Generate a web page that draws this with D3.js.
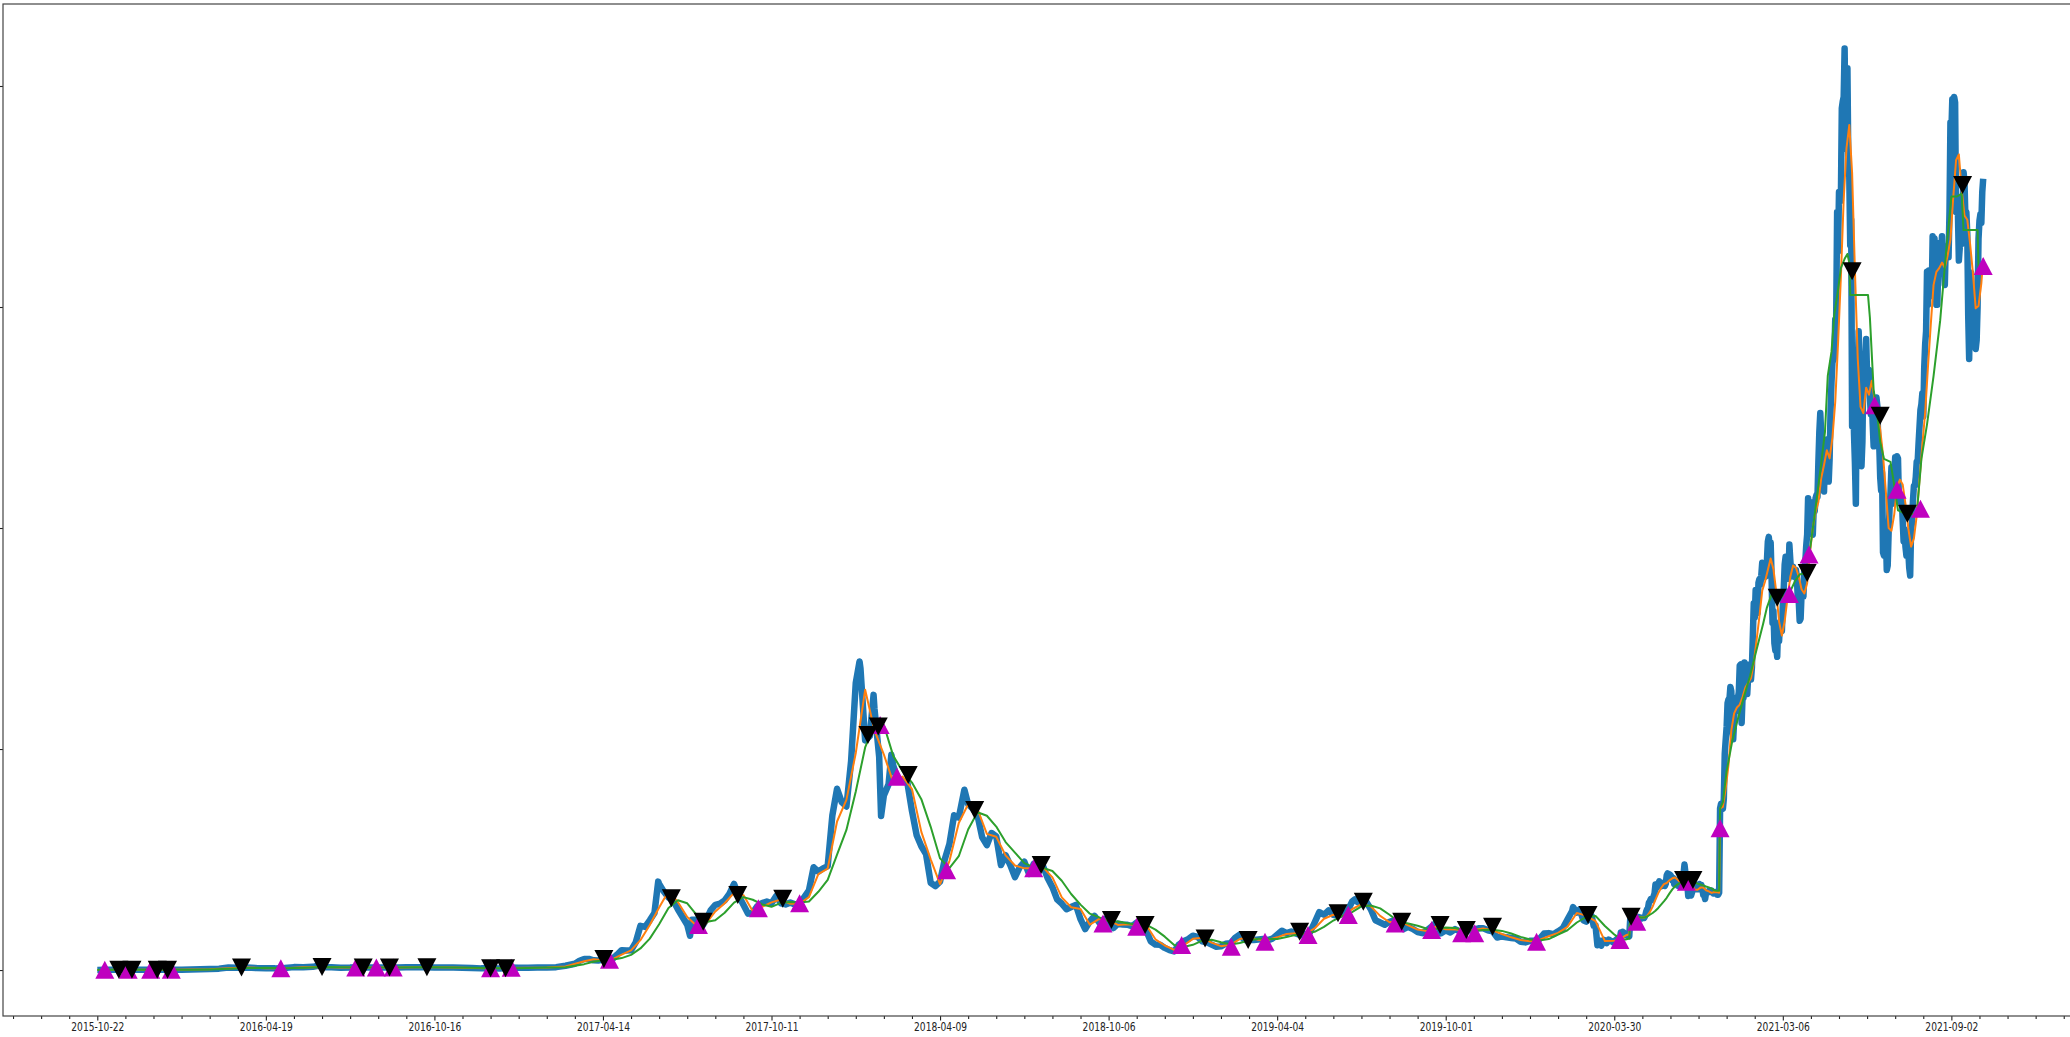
<!DOCTYPE html>
<html>
<head>
<meta charset="utf-8">
<script src="https://cdn.jsdelivr.net/npm/d3@7"></script>
<style>
  html, body { margin: 0; padding: 0; background: #fff; overflow: hidden; }
  svg { display: block; }
</style>
</head>
<body>
<svg id="chart" width="2070" height="1037"></svg>
<script>
// ---- x axis: row index of the daily series, labelled every 180 rows ----
const tickRows   = [0, 180, 360, 540, 720, 900, 1080, 1260, 1440, 1620, 1800, 1980];
const tickLabels = ["2015-10-22", "2016-04-19", "2016-10-16", "2017-04-14", "2017-10-11", "2018-04-09",
                    "2018-10-06", "2019-04-04", "2019-10-01", "2020-03-30", "2021-03-06", "2021-09-02"];
const yTicks = [0, 1000, 2000, 3000, 4000];

// ---- closing price, sampled rows [row, close] ----
const close2015_16 = [
  [0,0.57],[10,1.0],[20,0.99],[30,0.95],[40,0.88],[50,0.87],[60,0.95],[70,0.93],[80,0.99],[90,1.5],
  [100,2.4],[110,3.0],[120,4.5],[130,6.3],[140,11.0],[150,10.5],[160,11.4],[170,9.0],[180,8.0],[190,7.5],
  [200,9.4],[210,13.2],[220,12.5],[230,14.3],[237,20.6],[240,13.0],[250,12.5],[260,10.8],[270,11.1],[280,12.9],
  [290,10.9],[300,11.0],[310,11.3],[320,11.9],[330,12.8],[340,12.9],[350,12.9],[360,12.0],[370,11.4],[380,11.0],
  [390,10.0],[400,9.3],[410,7.5],[420,7.8],[430,7.2],[440,11.0],[450,9.8],[460,10.6],[470,11.3],[480,11.5],
  [490,13.1],[500,19.6],[510,28.5]
];
const close2017_18 = [
  [515,42],[520,50],[525,50],[530,44],[535,43],[540,47],[545,48],[550,50],[555,69],[560,90],
  [565,88],[570,89],[575,125],[580,200],[585,195],[590,225],[595,258],[599,400],[600,390],[605,355],
  [610,328],[615,315],[620,275],[625,240],[630,205],[633,155],[635,227],[640,228],[645,191],[650,225],
  [655,270],[660,295],[665,300],[670,315],[675,345],[680,390],[685,335],[690,295],[695,255],[700,260],
  [705,290],[710,303],[715,310],[720,302],[725,335],[730,302],[735,297],[740,305],[745,297],[750,300],
  [755,330],[760,360],[765,465],[770,445],[775,460],[780,470],[785,700],[790,820],[795,760],[800,740],
  [805,945],[810,1300],[814,1396],[815,1366],[820,1039],[825,1058],[829,1245],[830,1181],[835,964],[837,697],
  [840,790],[845,840],[848,974],[850,925],[855,860],[860,855],[865,850],[870,720],[875,610],[880,560],
  [885,525],[890,395],[895,380],[900,400],[905,500],[910,570],[915,700],[920,690],[926,816],[930,750],
  [935,730],[940,700],[945,600],[950,565],[955,620],[960,605],[965,475],[970,520],[975,475],[980,420],
  [985,465],[990,490],[995,435],[1000,480],[1005,455],[1010,470],[1015,415],[1020,375],[1025,320],[1030,300],
  [1035,275],[1040,285],[1045,295],[1050,230],[1055,185],[1060,220],[1065,245],[1070,215],[1075,230],[1080,225],
  [1085,190],[1090,210],[1095,206],[1100,205],[1105,198],[1110,215],[1115,212],[1120,180],[1125,130],[1130,115],
  [1135,114],[1140,100],[1145,90],[1150,84],[1155,115],[1160,130],[1165,140],[1170,155],[1175,150],[1180,130],
  [1185,125],[1190,115],[1195,105]
];
const close2019_20 = [
  [1200,107],[1205,119],[1210,121],[1215,145],[1220,160],[1225,136],[1230,137],[1235,136],[1240,138],[1245,140],
  [1250,135],[1255,142],[1260,160],[1265,178],[1270,167],[1275,174],[1280,165],[1285,157],[1290,162],[1295,170],
  [1300,215],[1305,262],[1310,250],[1315,270],[1320,250],[1325,245],[1330,255],[1335,265],[1340,310],[1343,320],
  [1345,310],[1350,300],[1355,310],[1360,275],[1365,225],[1370,215],[1375,205],[1380,218],[1385,225],[1390,210],
  [1395,185],[1400,195],[1405,186],[1410,172],[1415,167],[1420,180],[1425,197],[1430,215],[1435,166],[1440,180],
  [1445,170],[1450,185],[1455,175],[1460,175],[1465,180],[1470,183],[1475,189],[1480,189],[1485,180],[1490,175],
  [1495,147],[1500,152],[1505,148],[1510,145],[1515,142],[1520,128],[1525,125],[1530,132],[1535,134],[1540,140],
  [1545,165],[1550,167],[1555,162],[1560,175],[1565,189],[1570,228],[1575,267],[1576,285],[1580,260],[1583,274],
  [1587,225],[1590,219],[1596,244],[1598,200],[1600,201],[1602,112],[1603,133],[1604,124],[1605,133],[1606,110],
  [1609,136],[1612,122],[1614,138],[1619,125]
];

// ---- daily closes for the later, gapped stretches (first row of each block given) ----
const spring2020Start = 1620;
const closeSpring2020 = [132,133,136,141,141,144,143,170,164,173,170,158,158,161,156,157,153];
const summer2020Start = 1637;
const closeSummer2020 = [
  227,241,239,246,242,242,239,241,239,240,238,233,233,236,239,236,245,263,275,279,
  305,311,321,317,318,334,346,387,370,387,390,401,395,379,392,391,395,380,390,428,
  437,433,433,429,423,406,416,389,395,391,408,382,386,381,395,400,428,434,477,440,
  385,388,335,353,353,337,351,368,374,387,366,377,365,365,389,384,385,370,341,344,
  321,349,353,354,358,354,360,360,353,346,347,352,353,341,341,350
];
const start2021 = 1733;
const close2021 = [
  731,752,737,730,775,979,1041,1100,1208,1225, 1224,1281,1262,1090,1044,1130,1218,1171,1233,1230,
  1257,1377,1383,1118,1235,1231,1392,1325,1363,1249, 1330,1382,1378,1315,1370,1514,1660,1594,1719,1677,
  1615,1752,1769,1744,1784,1843,1814,1800,1779,1781, 1849,1938,1960,1919,1935,1781,1571,1625,1479,1446,
  1460,1417,1565,1488,1575,1541,1533,1654,1725,1835, 1870,1795,1825,1770,1925,1855,1790,1805,1825,1780,
  1810,1810,1780,1680,1670,1580,1590,1700,1715,1690, 1820,1845,1920,1970,2135,2025,2090,2110,2115,1970,
  2090,2075,2135,2150,2140,2300,2435,2520,2430,2365, 2210,2165,2330,2360,2400,2365,2210,2315,2535,2660,
  2750,2760,2775,2945,2950,3430,3250,3520,3490,3480, 3900,3930,3950,4170,3785,3715,4080,3640,3590,3280,
  3395,2460,2770,2430,2295,2110,2640,2710,2890,2750, 2420,2280,2390,2710,2630,2710,2855,2690,2630,2715,
  2590,2515,2610,2470,2370,2370,2510,2590,2550,2370, 2375,2230,2170,2250,1890,1875,1970,1990,1810,1830,
  1980,2085,2160,2275,2110,2150,2225,2320,2200,2325, 2315,2120,2150,2140,2140,2035,1940,1995,1915,1875,
  1900,1895,1820,1785,1995,2025,2125,2190,2190,2230, 2300,2300,2385,2460,2535,2560,2610,2505,2725,2830,
  2890,3160,3010,3165,3140,3165,3050,3320,3270,3310, 3150,3010,3010,3185,3290,3225,3240,3320,3170,3225,
  3100,3275,3245,3225,3225,3430,3835,3790,3940,3890, 3950,3925,3430,3500,3425,3210,3270,3410,3285,3430,
  3610,3570,3400,3430,3330,2960,2765,3080,3155,2930, 2920,3060,2930,2810,2850,3000,3310,3390,3420,3380,
  3520,3580
];

// ---- moving averages up to 2020: [row, short (10-day), long (30-day)] ----
const ma2015_16 = [
  [0,0.57,0.57],[20,0.99,0.85],[40,0.9,0.95],[60,0.91,0.9],[80,0.96,0.94],[100,1.95,1.4],[120,3.75,2.8],
  [140,8.6,5.8],[160,11.0,9.2],[180,8.5,10.0],[200,8.5,8.6],[220,12.8,10.3],[240,13.6,13.2],[260,11.6,12.5],
  [280,12.0,11.7],[300,11.0,11.5],[320,11.6,11.4],[340,12.8,12.3],[360,12.4,12.6],[380,11.2,11.8],[400,9.6,10.4],
  [420,7.6,8.7],[440,9.1,8.5],[460,10.2,9.6],[480,11.4,10.9],[500,16.3,13.0]
];
const ma2017_18 = [
  [520,39.6,26.6],[530,48.5,37.4],[540,44,44.1],[550,48,47],[560,69.5,54],[570,88.8,68.8],[580,135,97.7],
  [590,204,142],[600,283,207],[610,357,281],[620,308,316],[630,240,302],[640,200,249],[650,210,217],
  [660,265,225],[670,302,259],[680,349,305],[690,339,330],[700,266,318],[710,286,297],[720,306,286],
  [730,319,304],[740,300,308],[750,300,306],[760,330,310],[770,434,354],[780,459,408],[790,672,522],
  [800,770,634],[810,982,808],[820,1268,1007],[830,1084,1111],[840,975,1109],[850,849,969],[860,875,900],
  [870,819,848],[880,625,773],[890,501,648],[900,389,505],[910,493,461],[920,665,515],[930,750,636],
  [940,728,714],[950,616,698],[960,603,649],[970,519,579],[980,473,531],[990,460,484],[1000,460,464],
  [1010,465,462],[1020,419,448],[1030,329,404],[1040,284,344],[1050,276,296],[1060,205,255],[1070,231,238],
  [1080,225,220],[1090,204,220],[1100,207,212],[1110,204,205],[1120,205,205],[1130,139,183],[1140,111,151],
  [1150,91,113.5],[1160,111,104],[1170,141,114],[1180,146,133],[1190,124,137],[1200,108,126]
];
const ma2019_20 = [
  [1210,114,116],[1220,140,122],[1230,148,134],[1240,137,142],[1250,136,141],[1260,148,140],[1270,163,149],
  [1280,166,159],[1290,163,164],[1300,188,173],[1310,232,195],[1320,250,224],[1330,243,245],[1340,275,262],
  [1350,298,288],[1360,288,292],[1370,245,279],[1380,216,250],[1390,222,218],[1400,202,211],[1410,183,200],
  [1420,176,187],[1430,198,186],[1440,184,192],[1450,183,190],[1460,180,180],[1470,181,178],[1480,188,181],
  [1490,180,182],[1500,163,177],[1510,148,165],[1520,136,150],[1530,130,138],[1540,136,134],[1550,153,140],
  [1560,168,160],[1570,195,180],[1580,258,215],[1590,246,240],[1600,221,245],[1610,131,199],[1620,132,161],
  [1623,134,152],[1626,136,144],[1629,148,139],[1632,156,138],[1636,162,143]
];
const maSummer2020 = [
  [1637,227,227],[1640,238,238],[1643,239,239],[1646,240,240],[1649,239,238],[1652,237,238],[1655,244,242],
  [1658,262,250],[1661,287,258],[1664,319,268],[1667,348,281],[1670,371,296],[1673,389,311],[1676,394,327],
  [1679,406,347],[1682,415,365],[1685,419,379],[1688,407,389],[1691,395,396],[1694,400,402],[1697,411,407],
  [1700,404,404],[1703,385,399],[1706,363,397],[1709,363,391],[1712,373,387],[1715,373,383],[1718,361,378],
  [1721,356,374],[1724,349,368],[1727,353,360],[1730,352,359],[1732,350,359]
];

// ---- 2021 moving averages: [row, value] ----
const short2021 = [
  [1733,731],[1736,738],[1739,821],[1742,928],[1745,1083],[1748,1161],[1751,1188],[1754,1201],[1757,1235],
  [1760,1278],[1763,1300],[1766,1320],[1769,1389],[1772,1494],[1775,1599],[1778,1716],[1781,1758],[1784,1810],
  [1787,1862],[1790,1814],[1793,1711],[1796,1577],[1799,1513],[1802,1579],[1805,1684],[1808,1779],[1811,1830],
  [1814,1820],[1817,1781],[1820,1723],[1823,1704],[1826,1750],[1829,1891],[1832,2000],[1835,2072],[1838,2118],
  [1841,2225],[1844,2285],[1847,2352],[1850,2315],[1853,2409],[1856,2572],[1859,2837],[1862,3135],[1865,3485],
  [1868,3719],[1871,3824],[1874,3607],[1877,3166],[1880,2768],[1883,2548],[1886,2520],[1889,2635],[1892,2603],
  [1895,2666],[1898,2582],[1901,2529],[1904,2445],[1907,2331],[1910,2167],[1913,2000],[1916,1987],[1919,2062],
  [1922,2183],[1925,2219],[1928,2197],[1931,2108],[1934,1999],[1937,1916],[1940,1953],[1943,2056],[1946,2220],
  [1949,2376],[1952,2521],[1955,2729],[1958,2920],[1961,3100],[1964,3159],[1967,3176],[1970,3201],[1973,3178],
  [1976,3232],[1979,3305],[1982,3496],[1985,3664],[1988,3690],[1991,3530],[1994,3414],[1997,3395],[2000,3286],
  [2003,3154],[2006,2994],[2009,3005],[2012,3107],[2014,3219]
];
const long2021 = [
  [1733,731],[1736,760],[1740,900],[1746,1036],[1751,1120],[1758,1230],[1765,1330],[1772,1450],[1779,1567],
  [1783,1640],[1788,1700],[1795,1690],[1800,1690],[1807,1705],[1813,1760],[1818,1790],[1823,1795],[1828,1870],
  [1834,2060],[1841,2294],[1845,2434],[1848,2688],[1852,2798],[1855,2966],[1859,3078],[1862,3176],[1866,3218],
  [1869,3240],[1871,3200],[1872,3054],[1891,3054],[1893,2952],[1897,2624],[1900,2547],[1904,2391],[1908,2313],
  [1915,2299],[1918,2220],[1923,2080],[1932,2063],[1943,2063],[1948,2313],[1954,2469],[1961,2688],[1968,2937],
  [1975,3281],[1980,3500],[1986,3500],[1991,3513],[1993,3348],[2008,3348],[2009,3181],[2014,3181]
];

// ---- crossover signals ----
const buyRows   = [8, 33, 57, 79, 196, 276, 298, 316, 420, 442, 547, 642, 706, 750, 836, 854, 907, 1000, 1074, 1110,
                   1158, 1211, 1247, 1293, 1336, 1386, 1425, 1457, 1471, 1537, 1626, 1644, 1697, 1733, 1807, 1828, 1898,
                   1922, 1947, 2014];
const buyValues = [0.9, 0.9, 0.9, 0.9, 8.5, 12, 11, 11.5, 8, 10, 46, 204, 280, 302, 1109, 875, 452, 460, 211, 196,
                   113, 105, 128, 158, 249, 211, 181, 166, 166, 128, 136, 219, 400, 641, 1701, 1880, 2555,
                   2173, 2087, 3186];
const sellRows   = [23, 37, 64, 75, 154, 240, 284, 312, 352, 420, 436, 541, 613, 647, 684, 732, 823, 834, 866, 937,
                    1008, 1083, 1119, 1183, 1229, 1284, 1325, 1352, 1393, 1434, 1462, 1490, 1592, 1638, 1694, 1704,
                    1794, 1826, 1874, 1904, 1933, 1992];
const sellValues = [0.9, 0.9, 0.9, 0.9, 11, 14, 12, 11.5, 12.8, 8, 8, 50, 325, 219, 340, 322, 1064, 1102, 882, 724,
                    475, 226, 204, 143, 136, 173, 257, 309, 219, 204, 181, 196, 249, 241, 407, 407,
                    1685, 1796, 3162, 2508, 2064, 3552];

// ---- assemble series ----
const dailyBlock = (start, values) => values.map((v, i) => [start + i, v]);
const price = [].concat(
  close2015_16, close2017_18, close2019_20,
  dailyBlock(spring2020Start, closeSpring2020),
  dailyBlock(summer2020Start, closeSummer2020),
  dailyBlock(start2021, close2021)
);
const maEarly = [].concat(ma2015_16, ma2017_18, ma2019_20, maSummer2020);
const shortMA = maEarly.map(d => [d[0], d[1]]).concat(short2021);
const longMA  = maEarly.map(d => [d[0], d[2]]).concat(long2021);
const buys  = buyRows.map((r, i) => [r, buyValues[i]]);
const sells = sellRows.map((r, i) => [r, sellValues[i]]);

// ---- layout ----
const W = 2070, H = 1037;
const plot = { left: 3, top: 4, right: 2077.5, bottom: 1016 };

const x = d3.scaleLinear().domain([-100.7, 2114.7]).range([plot.left, plot.right]);
const y = d3.scaleLinear().domain([-208, 4371]).range([plot.bottom, plot.top]);

const svg = d3.select("#chart");
svg.append("rect").attr("width", W).attr("height", H).attr("fill", "#fff");

svg.append("defs").append("clipPath").attr("id", "plotClip")
  .append("rect")
  .attr("x", plot.left).attr("y", plot.top)
  .attr("width", plot.right - plot.left).attr("height", plot.bottom - plot.top);

const g = svg.append("g").attr("clip-path", "url(#plotClip)");

const line = d3.line().x(d => x(d[0])).y(d => y(d[1]));

g.append("path")
  .datum(price)
  .attr("d", line)
  .attr("fill", "none")
  .attr("stroke", "#1f77b4")
  .attr("stroke-width", 6.5)
  .attr("stroke-linejoin", "round");

g.append("path")
  .datum(shortMA)
  .attr("d", line)
  .attr("fill", "none")
  .attr("stroke", "#ff7f0e")
  .attr("stroke-width", 2)
  .attr("stroke-linejoin", "round");

g.append("path")
  .datum(longMA)
  .attr("d", line)
  .attr("fill", "none")
  .attr("stroke", "#2ca02c")
  .attr("stroke-width", 2)
  .attr("stroke-linejoin", "round");

// triangle markers, bounding box centred on the value
const mw = 19, mh = 18;
const upPath   = `M0,${-mh / 2}L${mw / 2},${mh / 2}L${-mw / 2},${mh / 2}Z`;
const downPath = `M0,${mh / 2}L${mw / 2},${-mh / 2}L${-mw / 2},${-mh / 2}Z`;

g.selectAll("path.buy").data(buys).join("path")
  .attr("class", "buy")
  .attr("d", upPath)
  .attr("transform", d => `translate(${x(d[0])},${y(d[1])})`)
  .attr("fill", "#bf00bf");

g.selectAll("path.sell").data(sells).join("path")
  .attr("class", "sell")
  .attr("d", downPath)
  .attr("transform", d => `translate(${x(d[0])},${y(d[1])})`)
  .attr("fill", "#000");

// ---- axes ----
const [d0, d1] = x.domain();
const minorRows = d3.range(Math.ceil(d0 / 30) * 30, d1, 30).filter(r => r % 180 !== 0);

const xMinor = d3.axisBottom(x).tickValues(minorRows).tickSize(3).tickFormat("");
const xMajor = d3.axisBottom(x).tickValues(tickRows).tickSize(4.5).tickPadding(2)
  .tickFormat((d, i) => tickLabels[i]);
const yAxis = d3.axisLeft(y).tickValues(yTicks).tickSize(5).tickFormat("");

const styleAxis = sel => {
  sel.select(".domain").remove();
  sel.selectAll(".tick line").attr("stroke", "#222").attr("stroke-width", 1.1);
  sel.selectAll(".tick text")
    .attr("fill", "#222")
    .attr("textLength", 53)
    .attr("lengthAdjust", "spacingAndGlyphs")
    .style("font-family", "'DejaVu Sans', sans-serif")
    .style("font-size", "12.5px");
};

svg.append("g").attr("transform", `translate(0,${plot.bottom})`).call(xMinor).call(styleAxis);
svg.append("g").attr("transform", `translate(0,${plot.bottom})`).call(xMajor).call(styleAxis);
svg.append("g").attr("transform", `translate(${plot.left},0)`).call(yAxis).call(styleAxis);

// frame
svg.append("rect")
  .attr("x", plot.left).attr("y", plot.top)
  .attr("width", plot.right - plot.left).attr("height", plot.bottom - plot.top)
  .attr("fill", "none")
  .attr("stroke", "#444")
  .attr("stroke-width", 1.2);
</script>
</body>
</html>
